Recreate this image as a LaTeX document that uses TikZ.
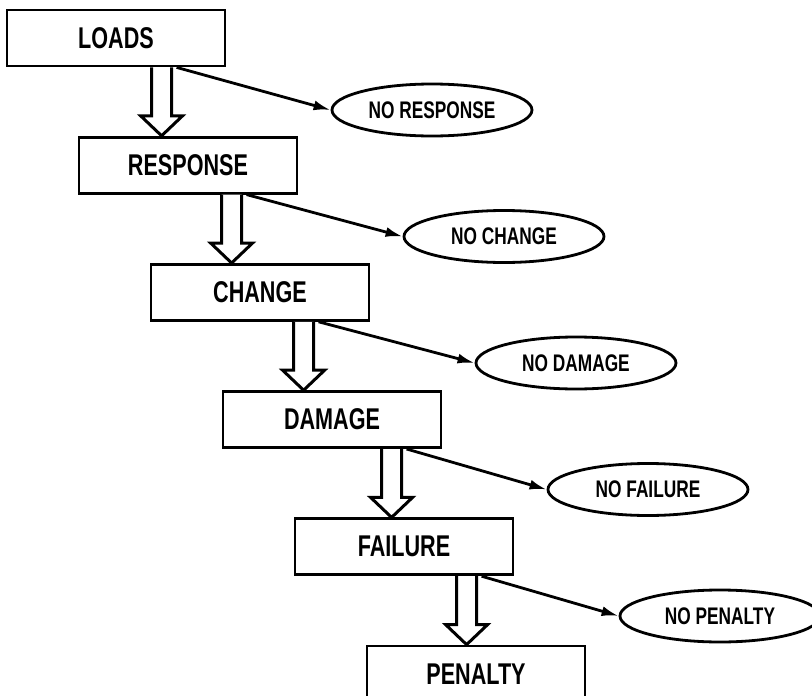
\documentclass[tikz,border=0pt]{standalone}
\usepackage{fontspec}
\newfontfamily\condfont[FakeStretch=0.72]{Liberation Sans}
\usepackage{tikz}
\usetikzlibrary{arrows.meta,shapes.geometric,calc}

\begin{document}
\begin{tikzpicture}[x=1pt,y=-1pt,
    stage/.style={draw, line width=2.8pt, minimum width=218pt, minimum height=56pt, inner sep=0pt,
      font=\condfont\bfseries\fontsize{30}{33}\selectfont},
    outcome/.style={draw, ellipse, line width=2.8pt, minimum width=200pt, minimum height=52pt, inner sep=0pt,
      font=\condfont\bfseries\fontsize{24}{26}\selectfont},
    hollow/.style={draw, fill=white, line width=3pt, line join=miter},
    branch/.style={-{Latex[length=17pt,width=10pt]}, line width=2.8pt}]
    \path[use as bounding box, fill=white] (0,0) rectangle (812,696);

    % stages and the outcomes that stop them
    \foreach \lab/\no [count=\i from 0] in {LOADS/NO RESPONSE, RESPONSE/NO CHANGE,
        CHANGE/NO DAMAGE, DAMAGE/NO FAILURE, FAILURE/NO PENALTY} {
        \node[stage] (b\i) at ({116+72*\i},{38+127.2*\i}) {\lab};
        \node[outcome] (e\i) at ({432+72*\i},{110+126.5*\i}) {\no};
    }
    \node[stage] (b5) at (476,674) {PENALTY};

    % hollow arrows down, thin arrows to the side
    \foreach \i/\off in {0/146,1/144,2/144,3/160,4/163} {
        \pgfmathtruncatemacro{\j}{\i+1}
        \coordinate (s\i) at ($(b\i.south west)+(\off,0)$);
        \draw[hollow] (s\i) -- ($(s\i |- b\j.north)+(0,-20)$) -- ++(-11,0)
            -- ($(s\i |- b\j.north)+(10,0)$) -- ++(21,-20) -- ++(-11,0) -- ($(s\i)+(20,0)$);
        \draw[branch] ($(s\i)+(25,0)$) -- (e\i.west);
    }
\end{tikzpicture}
\end{document}
